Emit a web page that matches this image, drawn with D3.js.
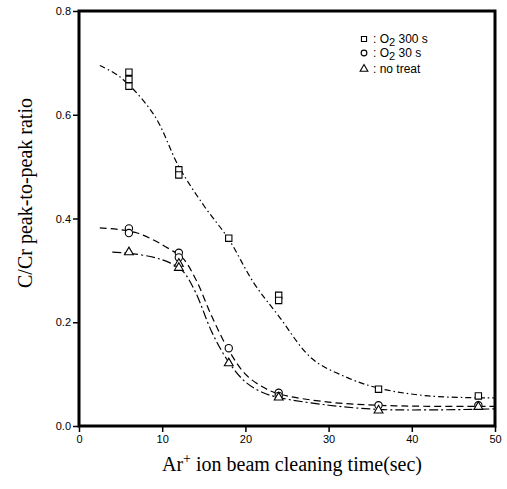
<!DOCTYPE html>
<html>
<head>
<meta charset="utf-8">
<script src="https://cdn.jsdelivr.net/npm/d3@7"></script>
<style>
  body { margin: 0; background: #fff; }
  .tick text { font-family: "Liberation Sans", Arial, sans-serif; }
</style>
</head>
<body>
<script>
(function(){

//measured points, cleaning time (sec) and C/Cr ratio
var sq300Time = [6, 6, 6, 12, 12, 18, 24, 24, 36, 48];
var sq300Val  = [0.682, 0.668, 0.655, 0.494, 0.484, 0.362, 0.252, 0.242, 0.071, 0.058];

var c30Time = [6, 6, 12, 12, 18, 24, 24, 36, 48];
var c30Val  = [0.381, 0.372, 0.334, 0.325, 0.150, 0.064, 0.058, 0.040, 0.040];

var noTime = [6, 12, 12, 18, 24, 36, 48];
var noVal  = [0.335, 0.313, 0.305, 0.121, 0.055, 0.030, 0.037];

//fitted curves
var sq300FitT = [2.5, 5, 9, 12, 15, 18, 21, 24, 28, 32, 36, 42, 50];
var sq300FitV = [0.695, 0.672, 0.600, 0.500, 0.425, 0.360, 0.276, 0.212, 0.130, 0.095, 0.073, 0.058, 0.054];

var c30FitT = [2.5, 7, 11, 12.5, 14, 16, 18, 20, 22, 24, 30, 36, 42, 50];
var c30FitV = [0.382, 0.372, 0.340, 0.323, 0.284, 0.210, 0.146, 0.100, 0.076, 0.062, 0.046, 0.040, 0.038, 0.038];

var noFitT = [4, 6, 9, 11, 12.5, 14, 16, 18, 20, 22, 24, 30, 36, 42, 50];
var noFitV = [0.335, 0.333, 0.325, 0.314, 0.298, 0.258, 0.180, 0.123, 0.085, 0.065, 0.055, 0.040, 0.032, 0.031, 0.033];

var xTicks = [0, 10, 20, 30, 40, 50];
var yTicks = [0.0, 0.2, 0.4, 0.6, 0.8];

var left = 79, right = 495, top = 11, bottom = 426;

var xScale = d3.scaleLinear().domain([0, 50]).range([left, right]);
var yScale = d3.scaleLinear().domain([0, 0.8]).range([bottom, top]);

var svg = d3.select("body")
    .append("svg")
    .attr("width", 507)
    .attr("height", 489);

//zip two arrays into point objects
function pts(tArr, vArr){
    return tArr.map(function(t, i){ return {t: t, v: vArr[i]}; });
}

var line = d3.line()
    .x(function(d){ return xScale(d.t); })
    .y(function(d){ return yScale(d.v); })
    .curve(d3.curveCatmullRom.alpha(0.5));

//fitted curves
svg.append("path")
    .datum(pts(sq300FitT, sq300FitV))
    .attr("d", line)
    .attr("fill", "none")
    .attr("stroke", "#000")
    .attr("stroke-width", 1.2)
    .attr("stroke-dasharray", "6,3,1.5,3");

svg.append("path")
    .datum(pts(c30FitT, c30FitV))
    .attr("d", line)
    .attr("fill", "none")
    .attr("stroke", "#000")
    .attr("stroke-width", 1.2)
    .attr("stroke-dasharray", "7,4");

svg.append("path")
    .datum(pts(noFitT, noFitV))
    .attr("d", line)
    .attr("fill", "none")
    .attr("stroke", "#000")
    .attr("stroke-width", 1.2)
    .attr("stroke-dasharray", "9,3,2,3");

//markers
var sym = {
    square: d3.symbol().type(d3.symbolSquare).size(40),
    circle: d3.symbol().type(d3.symbolCircle).size(42),
    triangle: d3.symbol().type(d3.symbolTriangle).size(34)
};

function drawMarkers(data, shape){
    svg.append("g").selectAll("path")
        .data(data)
        .enter()
        .append("path")
        .attr("d", sym[shape])
        .attr("transform", function(d){
            return "translate(" + xScale(d.t) + "," + yScale(d.v) + ")";
        })
        .attr("fill", "#fff")
        .attr("stroke", "#000")
        .attr("stroke-width", 1.1);
}
drawMarkers(pts(sq300Time, sq300Val), "square");
drawMarkers(pts(c30Time, c30Val), "circle");
drawMarkers(pts(noTime, noVal), "triangle");

//axes
var xAxis = d3.axisBottom(xScale)
    .tickValues(xTicks)
    .tickFormat(d3.format("d"))
    .tickSize(6)
    .tickPadding(3);
var yAxis = d3.axisLeft(yScale)
    .tickValues(yTicks)
    .tickFormat(d3.format(".1f"))
    .tickSize(6)
    .tickPadding(2);

var gx = svg.append("g")
    .attr("transform", "translate(0," + bottom + ")")
    .call(xAxis);
var gy = svg.append("g")
    .attr("transform", "translate(" + left + ",0)")
    .call(yAxis);

[gx, gy].forEach(function(g){
    g.select(".domain").remove();
    g.selectAll(".tick line").attr("stroke", "#000").attr("stroke-width", 1.5);
    g.selectAll(".tick text").attr("fill", "#000").style("font-size", "11px");
});

//frame, thick on all sides
svg.append("rect")
    .attr("x", left)
    .attr("y", top)
    .attr("width", right - left)
    .attr("height", bottom - top)
    .attr("fill", "none")
    .attr("stroke", "#000")
    .attr("stroke-width", 3);

//axis titles
var xTitle = svg.append("text")
    .attr("x", 292)
    .attr("y", 471)
    .attr("text-anchor", "middle")
    .style("font-family", "'Liberation Serif', 'Times New Roman', serif")
    .style("font-size", "20px");
xTitle.append("tspan").text("Ar");
xTitle.append("tspan").attr("dy", -8).style("font-size", "14px").text("+");
xTitle.append("tspan").attr("dy", 8).text(" ion beam cleaning time(sec)");

svg.append("text")
    .attr("transform", "translate(32,193) rotate(-90)")
    .attr("text-anchor", "middle")
    .style("font-family", "'Liberation Serif', 'Times New Roman', serif")
    .style("font-size", "20px")
    .text("C/Cr peak-to-peak ratio");

//legend
var legendRows = [
    {shape: "square", main: "O", sub: "2", rest: " 300 s"},
    {shape: "circle", main: "O", sub: "2", rest: " 30 s"},
    {shape: "triangle", main: "no treat", sub: "", rest: ""}
];
var legendY = [39, 53, 69];

legendRows.forEach(function(r, i){
    var y = legendY[i];
    svg.append("path")
        .attr("d", d3.symbol().type(r.shape == "square" ? d3.symbolSquare :
            r.shape == "circle" ? d3.symbolCircle : d3.symbolTriangle).size(26))
        .attr("transform", "translate(364," + y + ")")
        .attr("fill", "#fff")
        .attr("stroke", "#000")
        .attr("stroke-width", 1.1);
    var t = svg.append("text")
        .attr("x", 373)
        .attr("y", y + 4)
        .style("font-family", "'Liberation Sans', Arial, sans-serif")
        .style("font-size", "12px");
    t.append("tspan").text(": " + r.main);
    if (r.sub){
        t.append("tspan").attr("dy", 3).style("font-size", "11px").text(r.sub);
        t.append("tspan").attr("dy", -3).text(r.rest);
    }
});

})();
</script>
</body>
</html>
